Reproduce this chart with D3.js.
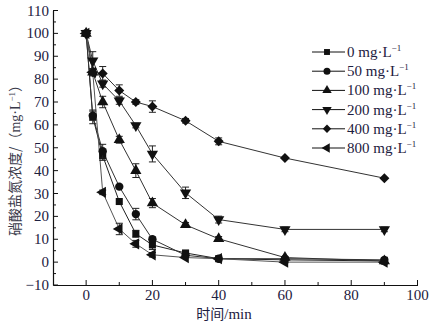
<!DOCTYPE html>
<html><head><meta charset="utf-8">
<script src="https://cdn.jsdelivr.net/npm/d3@7"></script>
<style>body{margin:0;background:#fff}svg{display:block}</style>
</head><body>
<svg id="c" width="433" height="323"></svg>
<script>
const times = [0, 2, 5, 10, 15, 20, 30, 40, 60, 90];
const seriesNames = ["0", "50", "100", "200", "400", "800"];
const s0   = [100, 63.5, 46.5, 26.5, 12.4, 7.5, 4, 1.5, 1, 0.5];
const s50  = [100, 64, 48.5, 33, 21, 10, 3, 1.5, 1.5, 1];
const s100 = [100, 83, 70, 53.5, 40, 25.8, 16.3, 10.2, 2, 0.5];
const s200 = [100, 88, 78, 70.5, 59.7, 47.3, 30.3, 18.6, 14.3, 14.3];
const s400 = [100, 83, 82.5, 75, 70, 68, 61.8, 52.8, 45.5, 36.7];
const s800 = [100, 83, 30.5, 14.5, 8, 3.2, 2, 1.5, 0, 0];
const e0   = [0, 3, 2, 0, 1.5, 2, 1, 0.5, 0, 0];
const e50  = [0, 2, 3, 0, 2.5, 1, 1, 0.5, 0.5, 0.5];
const e100 = [0, 1.5, 2.5, 1.5, 3, 2, 1, 1, 0.5, 0.5];
const e200 = [0, 4, 1.5, 1.5, 1, 3.5, 2.5, 1.5, 1, 1];
const e400 = [0, 1.5, 3, 2.5, 1, 2.5, 1, 1.5, 0.5, 0.5];
const e800 = [0, 1.5, 1, 2.5, 1.5, 1, 0.5, 0.5, 0.5, 0.5];
const yTicks = [-10, 0, 10, 20, 30, 40, 50, 60, 70, 80, 90, 100, 110];
const xTicks = [0, 20, 40, 60, 80, 100];

const allVals = [s0, s50, s100, s200, s400, s800];
const allErr = [e0, e50, e100, e200, e400, e800];

const svg = d3.select("#c");
const x = d3.scaleLinear().domain([-10, 100]).range([53, 417.5]);
const y = d3.scaleLinear().domain([-10, 110]).range([285, 10.5]);
const textCol = "#1d2040";
const serif = "'Liberation Serif','Times New Roman',serif";

// axes
const yAxis = svg.append("g").attr("transform", `translate(${x(-10)},0)`)
  .call(d3.axisRight(y).tickValues(d3.range(-10, 111, 5)).tickSize(0).tickFormat(""));
yAxis.select(".domain").attr("stroke", "#111").attr("stroke-width", 1.2);
const xAxis = svg.append("g").attr("transform", `translate(0,${y(-10)})`)
  .call(d3.axisTop(x).tickValues(d3.range(-10, 101, 10)).tickSize(0).tickFormat(""));
xAxis.select(".domain").attr("stroke", "#111").attr("stroke-width", 1.2);

// ticks
d3.range(-10, 111, 5).forEach(v => {
  const major = v % 10 === 0;
  svg.append("line").attr("x1", x(-10)).attr("x2", x(-10) + (major ? 5 : 3))
    .attr("y1", y(v)).attr("y2", y(v)).attr("stroke", "#111").attr("stroke-width", 1);
});
d3.range(0, 101, 10).forEach(v => {
  const major = v % 20 === 0;
  svg.append("line").attr("x1", x(v)).attr("x2", x(v))
    .attr("y1", y(-10)).attr("y2", y(-10) - (major ? 5 : 3)).attr("stroke", "#111").attr("stroke-width", 1);
});
svg.selectAll(".yl").data(yTicks).enter().append("text")
  .attr("x", x(-10) - 4).attr("y", d => y(d) + 5)
  .attr("text-anchor", "end").attr("font-family", serif).attr("font-size", 15)
  .attr("fill", textCol).text(d => d < 0 ? "\u2212" + Math.abs(d) : d);
svg.selectAll(".xl").data(xTicks).enter().append("text")
  .attr("x", d => x(d)).attr("y", y(-10) + 15)
  .attr("text-anchor", "middle").attr("font-family", serif).attr("font-size", 15)
  .attr("fill", textCol).text(d => d);

// titles
const xt = svg.append("text").attr("x", 224).attr("y", 318.5).attr("text-anchor", "middle")
  .attr("font-size", 14).attr("fill", textCol);
xt.append("tspan").attr("font-family", "'Noto Sans CJK SC'").text("时间");
xt.append("tspan").attr("font-family", serif).attr("font-size", 15).text("/min");

const yt = svg.append("text").attr("transform", "translate(20,157) rotate(-90)")
  .attr("text-anchor", "middle").attr("font-size", 14).attr("fill", "#3a3a4a");
yt.append("tspan").attr("font-family", "'Noto Sans CJK SC'").text("硝酸盐氮浓度/（");
yt.append("tspan").attr("font-family", serif).attr("font-size", 14).text("mg·L");
yt.append("tspan").attr("font-family", serif).attr("font-size", 9).attr("dy", -5).text("−1");
yt.append("tspan").attr("font-family", "'Noto Sans CJK SC'").attr("dy", 5).text("）");

// symbols
function symPath(i, size) {
  const types = [d3.symbolSquare, d3.symbolCircle, d3.symbolTriangle, d3.symbolTriangle, d3.symbolSquare, d3.symbolTriangle];
  return d3.symbol().type(types[i]).size(size)();
}
const rot = [0, 0, 0, 180, 45, -90];
const sizes = [50, 55, 55, 55, 50, 55];

const line = d3.line().x((d, i) => x(times[i])).y(d => y(d));
const lineCols = ["#222", "#333", "#333", "#333", "#333", "#555"];

allVals.forEach((vals, si) => {
  svg.append("path").datum(vals).attr("d", line).attr("fill", "none")
    .attr("stroke", lineCols[si]).attr("stroke-width", 1);
});
allVals.forEach((vals, si) => {
  const errs = allErr[si];
  vals.forEach((v, i) => {
    const e = errs[i];
    if (e > 0.8) {
      const g = svg.append("g").attr("stroke", "#222").attr("stroke-width", 1);
      g.append("line").attr("x1", x(times[i])).attr("x2", x(times[i])).attr("y1", y(v - e)).attr("y2", y(v + e));
      g.append("line").attr("x1", x(times[i]) - 3.5).attr("x2", x(times[i]) + 3.5).attr("y1", y(v - e)).attr("y2", y(v - e));
      g.append("line").attr("x1", x(times[i]) - 3.5).attr("x2", x(times[i]) + 3.5).attr("y1", y(v + e)).attr("y2", y(v + e));
    }
  });
  svg.selectAll(null).data(vals).enter().append("path")
    .attr("d", symPath(si, sizes[si]))
    .attr("transform", (d, i) => `translate(${x(times[i])},${y(d)}) rotate(${rot[si]})`)
    .attr("fill", "#111");
});

// legend
const lg = svg.append("g");
seriesNames.forEach((n, i) => {
  const ly = 52 + i * 19.2;
  lg.append("line").attr("x1", 312).attr("x2", 345).attr("y1", ly).attr("y2", ly)
    .attr("stroke", "#111").attr("stroke-width", 1);
  lg.append("path").attr("d", symPath(i, sizes[i] * 0.7))
    .attr("transform", `translate(327,${ly}) rotate(${rot[i]})`).attr("fill", "#111");
  const t = lg.append("text").attr("x", 347).attr("y", ly + 5).attr("font-family", serif)
    .attr("font-size", 15).attr("fill", textCol);
  t.append("tspan").text(n + " mg·L");
  t.append("tspan").attr("font-size", 9).attr("dy", -6).text("−1");
});
</script>
</body></html>
